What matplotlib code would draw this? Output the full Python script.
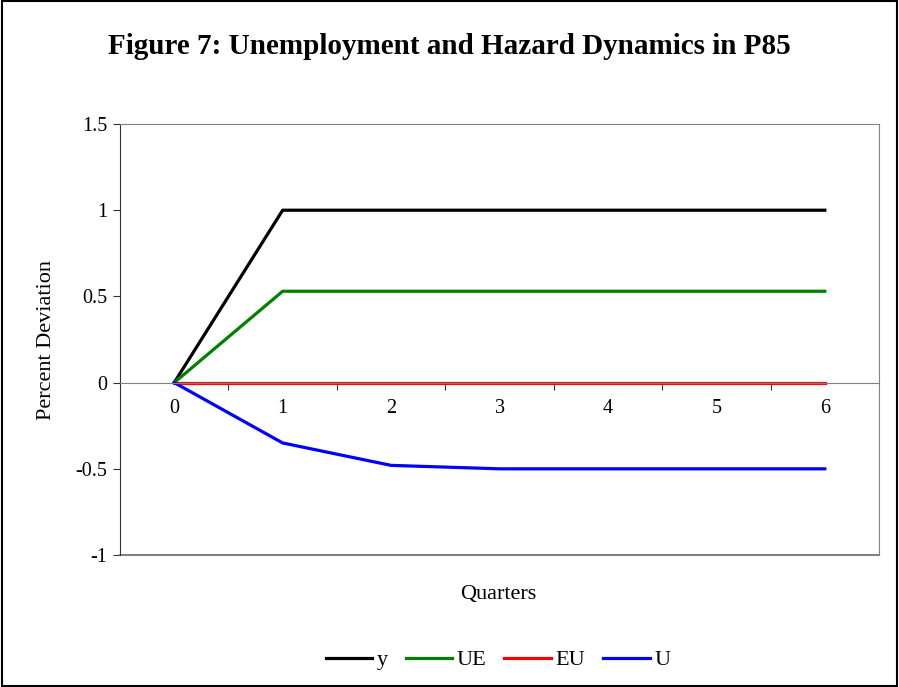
import matplotlib.pyplot as plt
from matplotlib.patches import Rectangle

plt.rcParams['font.family'] = ['Liberation Serif', 'DejaVu Serif']

# data
quarters = [0, 1, 2, 3, 4, 5, 6]
y = [0, 1, 1, 1, 1, 1, 1]
ue = [0, 0.53, 0.53, 0.53, 0.53, 0.53, 0.53]
eu = [0, 0, 0, 0, 0, 0, 0]
u = [0, -0.35, -0.48, -0.5, -0.5, -0.5, -0.5]

fig = plt.figure(figsize=(8.99, 6.87), dpi=100)
ax = fig.add_axes([0.1335, 0.1921, 0.8443, 0.6274])

ax.plot(quarters, y, color='black', lw=2.3, label='y')
ax.plot(quarters, ue, color='#008000', lw=2.3, label='UE')
ax.plot(quarters, eu, color='#ff0000', lw=2.3, label='EU')
ax.plot(quarters, u, color='#0000ff', lw=2.3, label='U')

ax.set_xlim(-0.5, 6.5)
ax.set_ylim(-1, 1.5)
ax.set_yticks([-1, -0.5, 0, 0.5, 1, 1.5])
ax.set_yticklabels(['-1', '-0.5', '0', '0.5', '1', '1.5'])

# category axis: tick marks between categories, labels at categories
ax.set_xticks([0.5, 1.5, 2.5, 3.5, 4.5, 5.5])
ax.set_xticklabels([])
ax.set_xticks(quarters, minor=True)
ax.set_xticklabels([str(q) for q in quarters], minor=True)
ax.tick_params(axis='x', which='major', direction='out', length=5, color='#333333')
ax.tick_params(axis='x', which='minor', length=0, pad=12, labelsize=14.5)
ax.tick_params(axis='y', direction='out', length=5, color='#333333', labelsize=14.5, pad=4)

ax.spines['bottom'].set_position(('data', 0))
ax.spines['bottom'].set_color('#808080')
ax.spines['left'].set_color('#333333')
ax.spines['top'].set_color('#808080')
ax.spines['right'].set_color('#808080')
ax.axhline(-1, color='#808080', lw=1.5, clip_on=False)

ax.set_ylabel('Percent Deviation', fontsize=16, labelpad=14)
fig.text(0.554, 0.134, 'Quarters', ha='center', va='center', fontsize=16)
fig.text(0.5, 0.932, 'Figure 7: Unemployment and Hazard Dynamics in P85',
         ha='center', va='center', fontsize=21, fontweight='bold')

fig.legend(loc='center', bbox_to_anchor=(0.554, 0.039), ncol=4, frameon=False,
           fontsize=16, handlelength=2.1, handletextpad=0.2, columnspacing=0.8)

fig.add_artist(Rectangle((0.002, 0.002), 0.996, 0.996, transform=fig.transFigure,
                         fill=False, edgecolor='black', lw=1.5))

fig.savefig('out.png', dpi=100)
